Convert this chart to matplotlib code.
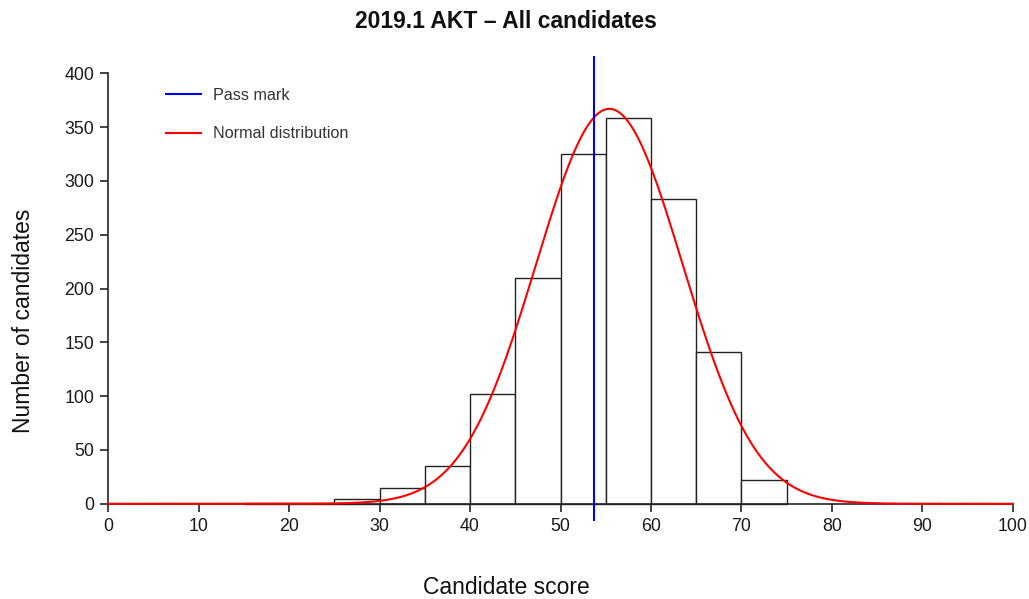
import matplotlib
matplotlib.use("Agg")
import matplotlib.pyplot as plt
import numpy as np
from matplotlib.lines import Line2D

plt.rcParams['font.family'] = ['Liberation Sans', 'DejaVu Sans']

# Data
bin_edges = [15, 20, 25, 30, 35, 40, 45, 50, 55, 60, 65, 70, 75]
bin_counts = [1, 1, 4, 15, 35, 102, 210, 325, 358, 283, 141, 22]
pass_mark = 53.7
norm_mean = 55.4
norm_sd = 8.1
n_candidates = 1490
x_ticks = [0, 10, 20, 30, 40, 50, 60, 70, 80, 90, 100]
y_ticks = [0, 50, 100, 150, 200, 250, 300, 350, 400]

W, H = 1029, 599
fig = plt.figure(figsize=(W / 100, H / 100), dpi=100)
ax = fig.add_axes([72 / W, 1 - 521 / H, 977 / W, 465 / H])
ax.set_xlim(-4, 104)
ax.set_ylim(-16, 416)
ax.patch.set_alpha(0)

# histogram bars
lefts = np.array(bin_edges[:-1])
widths = np.diff(bin_edges)
ax.bar(lefts, bin_counts, width=widths, align='edge', facecolor='white',
       edgecolor='#222222', linewidth=1.0, zorder=2)

# normal curve
xs = np.linspace(0, 100, 1001)
binw = widths[0]
ys = n_candidates * binw / (norm_sd * np.sqrt(2 * np.pi)) * np.exp(-0.5 * ((xs - norm_mean) / norm_sd) ** 2)
ax.plot(xs, ys, color='#ff0000', linewidth=1.5, zorder=3)

# pass mark
ax.axvline(pass_mark, color='#0000ff', linewidth=1.5, zorder=4)

# axes styling
for s in ['top', 'right']:
    ax.spines[s].set_visible(False)
ax.spines['left'].set_position(('data', 0))
ax.spines['bottom'].set_position(('data', 0))
ax.spines['left'].set_bounds(0, 400)
ax.spines['bottom'].set_bounds(0, 100)
for s in ['left', 'bottom']:
    ax.spines[s].set_color('#222222')
    ax.spines[s].set_linewidth(1.2)
ax.set_xticks(x_ticks)
ax.set_yticks(y_ticks)
ax.tick_params(axis='both', direction='out', length=5.6, width=1.2, color='#222222',
               labelsize=12.8, labelcolor='#1a1a1a', pad=4.5)

# legend
handles = [Line2D([], [], color='#0000ff', linewidth=1.5),
           Line2D([], [], color='#ff0000', linewidth=1.5)]
leg = fig.legend(handles, ['Pass mark', 'Normal distribution'], loc='upper left',
                 bbox_to_anchor=(166 / W, 1 - 88 / H), frameon=False, fontsize=11.6,
                 handlelength=2.2, handletextpad=0.7, labelspacing=1.45, borderpad=0,
                 borderaxespad=0)
for t in leg.get_texts():
    t.set_color('#333333')

fig.text(506 / W, 1 - 22 / H, '2019.1 AKT – All candidates', ha='center', va='center',
         fontsize=16.5, fontweight='bold', color='#111111')
fig.text(506 / W, 1 - 587 / H, 'Candidate score', ha='center', va='center',
         fontsize=16.5, color='#111111')
fig.text(24 / W, 1 - 321 / H, 'Number of candidates', ha='center', va='center',
         rotation=90, fontsize=16.5, color='#111111')

fig.savefig('out.png', dpi=100)
